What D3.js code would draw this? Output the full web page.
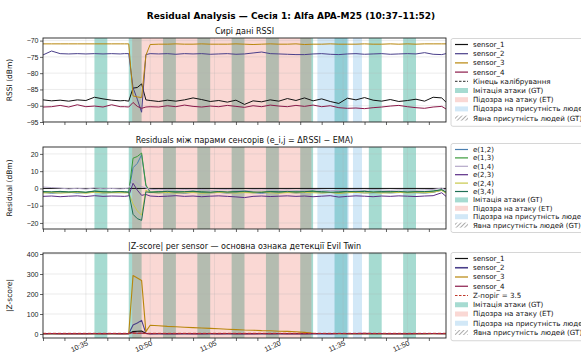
<!DOCTYPE html>
<html>
<head>
<meta charset="utf-8">
<script src="https://cdn.jsdelivr.net/npm/d3@7/dist/d3.min.js"></script>
<style>
  body { margin: 0; background: #fff; }
  svg { display: block; font-family: "DejaVu Sans", sans-serif; }
</style>
</head>
<body>
<svg id="chart" width="581" height="354"></svg>
<script>
// time axis: minutes after 10:00
const minutes = [25,27,29,31,33,35,37,39,41,43,44,45,46,47,48,49,50,52,54,56,58,60,62,64,66,68,70,72,74,76,78,80,82,84,86,88,90,92,94,96,98,100,102,104,106,108,110,112,114,116,118,119];

// raw RSSI (dBm)
const rssi1 = [-88.2,-88.5,-88.3,-88.6,-88.2,-88.4,-87.4,-87.9,-88.3,-88.5,-88.4,-88.6,-84.6,-84.4,-83.3,-88.2,-88.4,-88.7,-88.3,-88.6,-88.2,-87.6,-88.1,-88.7,-88.4,-88.9,-88.3,-89.6,-88.5,-88.8,-88.2,-88.6,-87.8,-88.4,-87.6,-88.5,-87.9,-88.7,-89.3,-87.7,-88.2,-87.5,-88.3,-88.6,-88.1,-88.7,-88.4,-88.0,-88.6,-87.4,-87.6,-88.9];
const rssi2 = [-74.4,-73.2,-74.0,-74.1,-74.0,-74.1,-74.0,-74.1,-74.0,-74.1,-74.0,-74.0,-84.5,-88.0,-92.0,-74.3,-74.0,-74.1,-74.0,-74.2,-74.0,-74.1,-74.0,-74.2,-74.1,-74.0,-74.2,-74.1,-73.8,-73.5,-74.0,-74.1,-74.2,-74.3,-74.3,-74.1,-74.0,-74.2,-74.3,-74.1,-74.0,-74.2,-74.1,-74.0,-74.2,-74.1,-74.0,-74.1,-73.7,-74.2,-74.3,-74.0];
const rssi3 = [-71.0,-71.0,-71.0,-71.0,-71.0,-71.0,-71.0,-71.0,-71.0,-71.0,-71.0,-71.0,-87.0,-87.3,-87.5,-74.5,-71.2,-71.1,-71.1,-71.0,-71.1,-71.1,-71.0,-71.1,-71.1,-71.1,-71.0,-71.1,-71.2,-71.1,-71.0,-71.1,-71.1,-71.0,-71.2,-71.1,-71.1,-71.0,-71.1,-71.1,-71.1,-71.0,-71.1,-71.1,-71.0,-71.1,-71.0,-71.1,-71.0,-71.0,-71.0,-71.0];
const rssi4 = [-90.4,-90.3,-89.9,-90.4,-89.7,-90.3,-90.1,-90.4,-89.7,-90.3,-90.3,-90.4,-89.0,-90.2,-90.8,-90.4,-90.3,-90.4,-90.0,-90.3,-89.8,-90.2,-90.4,-90.1,-90.3,-89.9,-90.2,-90.5,-90.0,-90.3,-89.8,-90.1,-90.3,-89.9,-90.2,-89.8,-90.3,-90.0,-90.6,-90.8,-90.7,-90.9,-90.6,-90.4,-90.1,-89.9,-90.3,-90.6,-90.8,-90.4,-90.2,-91.0];

// residuals between sensor pairs (dBm)
const e12 = [-2.3,-2.8,-2.5,-2.2,-2.7,-2.4,-2.0,-2.6,-2.4,-2.5,-2.3,-2.0,12.0,14.5,19.5,1.5,-2.2,-2.6,-2.3,-2.5,-2.8,-2.2,-2.4,-2.6,-2.3,-2.7,-2.4,-2.1,-2.5,-2.8,-2.3,-2.5,-2.2,-2.6,-2.4,-2.0,-2.5,-2.3,-2.7,-2.4,-2.2,-2.6,-2.5,-2.3,-2.6,-2.4,-2.2,-2.5,-2.7,-2.3,-1.0,-2.6];
const e13 = [-2.0,-2.2,-1.8,-2.1,-1.9,-2.3,-1.6,-2.0,-2.2,-1.9,-2.1,-2.4,17.5,18.5,20.5,2.0,-2.1,-1.8,-2.2,-1.9,-2.0,-1.7,-2.1,-2.3,-1.9,-2.2,-1.8,-2.0,-2.4,-2.1,-1.8,-2.0,-2.2,-1.9,-2.1,-1.6,-2.0,-2.3,-2.5,-1.9,-2.0,-1.7,-2.2,-2.0,-1.8,-2.1,-2.3,-1.9,-2.0,-1.6,-0.8,-2.2];
const e14 = [0.8,0.5,0.2,-0.3,0.1,-0.4,0.3,-0.2,0.0,-0.3,-0.1,0.2,5.0,3.0,1.0,0.3,-0.5,-0.8,-0.6,-1.0,-0.7,-0.9,-0.6,-1.1,-0.8,-0.7,-1.0,-1.2,-0.8,-0.9,-0.7,-1.0,-0.8,-1.1,-0.9,-0.6,-1.0,-1.3,-1.2,-0.8,-0.9,-1.0,-0.7,-0.9,-1.1,-0.8,-0.9,-1.0,-0.8,-0.6,0.2,-1.0];
const e23 = [-4.6,-4.4,-4.8,-4.5,-4.3,-4.7,-4.2,-4.6,-4.4,-4.5,-4.6,-4.3,3.0,-1.0,-4.0,-3.5,-4.4,-4.7,-4.5,-4.2,-4.6,-4.4,-4.8,-4.5,-4.3,-4.6,-4.9,-5.3,-4.6,-4.4,-4.7,-4.5,-4.3,-4.6,-4.4,-4.8,-4.5,-4.2,-5.0,-4.6,-4.3,-4.5,-4.8,-4.4,-4.6,-4.3,-4.5,-4.7,-4.4,-4.2,-2.5,-4.6];
const e24 = [-2.6,-2.4,-2.7,-2.5,-2.3,-2.8,-2.2,-2.6,-2.5,-2.4,-2.6,-2.5,-9.0,-13.0,-15.5,-1.0,-2.4,-2.6,-2.3,-2.7,-2.5,-2.4,-2.8,-2.6,-2.3,-2.5,-2.7,-2.4,-2.6,-2.2,-2.5,-2.8,-2.4,-2.6,-2.3,-2.5,-2.7,-2.4,-2.9,-2.5,-2.3,-2.6,-2.4,-2.7,-2.5,-2.3,-2.6,-2.4,-2.5,-2.2,-1.2,-2.7];
const e34 = [-1.8,-2.0,-1.7,-2.1,-1.9,-2.2,-1.5,-1.9,-2.0,-1.8,-1.9,-2.2,-15.0,-17.5,-18.5,-2.0,-2.3,-2.0,-1.7,-2.1,-1.9,-1.6,-2.0,-2.2,-1.8,-2.1,-1.9,-1.6,-2.0,-2.3,-1.8,-2.0,-1.7,-2.1,-1.9,-1.5,-1.9,-2.2,-2.0,-1.7,-1.9,-1.6,-2.1,-1.8,-2.0,-1.7,-2.1,-1.9,-1.8,-1.5,-0.7,-2.1];

// |Z-score| per sensor
const z1 = [1.2,1.8,1.0,2.0,1.4,1.6,2.5,1.8,1.2,1.5,1.3,1.6,12.0,14.0,15.0,2.5,1.5,1.8,1.3,1.6,1.9,2.2,1.4,1.7,1.3,1.8,1.5,2.4,1.6,1.9,1.3,1.7,2.0,1.4,2.1,1.5,1.8,1.6,2.2,2.0,1.4,2.3,1.7,1.5,1.8,1.6,1.4,1.9,1.6,2.4,2.6,1.8];
const z2 = [1.5,2.8,1.2,1.4,1.3,1.5,1.2,1.4,1.3,1.5,1.2,1.4,45.0,55.0,68.0,3.0,1.5,1.3,1.4,1.2,1.5,1.3,1.4,1.6,1.2,1.5,1.3,1.4,1.8,1.5,1.3,1.4,1.2,1.5,1.3,1.4,1.2,1.5,1.6,1.3,1.4,1.2,1.5,1.3,1.4,1.2,1.5,1.6,1.4,1.8,1.5,1.3];
const z3 = [1.0,1.2,0.9,1.1,1.0,1.2,1.0,1.1,0.9,1.0,1.1,1.2,292.0,280.0,268.0,12.0,44.0,41.0,38.0,36.0,34.0,32.0,30.0,28.0,26.0,24.0,22.0,20.0,19.0,17.0,16.0,14.0,13.0,11.0,8.0,3.0,2.6,2.2,2.0,1.8,1.7,1.5,1.5,1.4,1.3,1.3,1.2,1.2,1.1,1.1,1.0,1.0];
const z4 = [2.0,2.2,1.8,2.4,1.9,2.1,2.3,1.9,2.2,2.0,2.1,2.3,6.0,3.5,4.5,2.2,2.0,2.2,1.9,2.1,2.3,1.8,2.0,2.2,1.9,2.4,2.0,2.1,1.8,2.2,2.0,2.3,1.9,2.1,2.0,2.2,2.4,2.1,2.6,2.8,2.5,2.9,2.4,2.2,2.0,1.9,2.1,2.3,2.5,2.2,2.0,2.6];
const zThreshold = 3.5;

// shaded intervals (minutes after 10:00)
const attackGT = [[37,40],[45,48],[53,56],[61,64],[69,72],[77,80],[85,88],[93,96],[101,104],[109,112]];
const attackET = [[45.8,87.6]];
const presenceET = [[89,96.3],[97.3,99.4]];

const tickMinutes = d3.range(25, 120, 5);
const labelMinutes = [35, 50, 65, 80, 95, 110];

const sensorNames = ['sensor_1','sensor_2','sensor_3','sensor_4'];
const pairNames = ['e(1,2)','e(1,3)','e(1,4)','e(2,3)','e(2,4)','e(3,4)'];

const sensorColors = ['#111111','#4a3f8a','#b8860b','#8b1a4a'];
const pairColors = ['#4a7fb0','#3a9a3a','#b4a8c8','#5b2d86','#c8c84a','#1f6f55'];

const svg = d3.select('#chart');
const W = 581;
const x = d3.scaleLinear().domain([25, 119]).range([43, 446]);
const fmt = m => { const t = 600 + m; return Math.floor(t / 60) + ':' + String(t % 60).padStart(2, '0'); };

svg.append('rect').attr('width', W).attr('height', 354).attr('fill', '#fff');

const defs = svg.append('defs');
const hatch = defs.append('pattern').attr('id', 'hatch').attr('patternUnits', 'userSpaceOnUse')
  .attr('width', 3).attr('height', 3).attr('patternTransform', 'rotate(45)');
hatch.append('line').attr('x1', 0).attr('y1', 0).attr('x2', 0).attr('y2', 3).attr('stroke', '#333').attr('stroke-width', 0.8);

svg.append('text').attr('x', 291).attr('y', 19).attr('text-anchor', 'middle')
  .attr('font-size', 9).attr('font-weight', 'bold')
  .text('Residual Analysis — Сесія 1: Alfa APA-M25 (10:37–11:52)');

function drawPanel(cfg) {
  const y = d3.scaleLinear().domain(cfg.domain).range([cfg.bottom, cfg.top]);
  const g = svg.append('g');
  const clipId = 'clip' + cfg.id;
  defs.append('clipPath').attr('id', clipId).append('rect')
    .attr('x', 43).attr('y', cfg.top).attr('width', 403).attr('height', cfg.bottom - cfg.top);

  const plot = g.append('g').attr('clip-path', `url(#${clipId})`);

  // shading
  const shade = (list, color, op) => plot.append('g').selectAll('rect').data(list).enter().append('rect')
    .attr('x', d => x(d[0])).attr('width', d => x(d[1]) - x(d[0]))
    .attr('y', cfg.top).attr('height', cfg.bottom - cfg.top)
    .attr('fill', color).attr('fill-opacity', op);
  shade(attackGT, '#16a085', 0.38);
  shade(attackET, '#e74c3c', 0.22);
  shade(presenceET, '#5dade2', 0.28);

  // grid
  plot.append('g').selectAll('line').data(cfg.ticks).enter().append('line')
    .attr('x1', 43).attr('x2', 446).attr('y1', d => y(d)).attr('y2', d => y(d))
    .attr('stroke', '#b0b0b0').attr('stroke-opacity', 0.35).attr('stroke-width', 0.7);
  plot.append('g').selectAll('line').data(labelMinutes).enter().append('line')
    .attr('y1', cfg.top).attr('y2', cfg.bottom).attr('x1', d => x(d)).attr('x2', d => x(d))
    .attr('stroke', '#b0b0b0').attr('stroke-opacity', 0.35).attr('stroke-width', 0.7);

  if (cfg.hline) {
    plot.append('line').attr('x1', 43).attr('x2', 446)
      .attr('y1', y(cfg.hline.v)).attr('y2', y(cfg.hline.v))
      .attr('stroke', cfg.hline.color).attr('stroke-width', cfg.hline.width)
      .attr('stroke-dasharray', cfg.hline.dash || null);
  }

  const line = d3.line().x((d, i) => x(minutes[i])).y(d => y(d));
  cfg.series.forEach((s, i) => {
    plot.append('path').datum(s).attr('d', line).attr('fill', 'none')
      .attr('stroke', cfg.colors[i]).attr('stroke-width', cfg.lw || 1).attr('stroke-linejoin', 'round');
  });

  if (cfg.after) cfg.after(plot, y);

  // axes
  const ax = g.append('g').attr('transform', `translate(0,${cfg.bottom})`)
    .call(d3.axisBottom(x).tickValues(tickMinutes).tickSize(3)
      .tickFormat(d => (cfg.labels && labelMinutes.includes(d)) ? fmt(d) : ''));
  ax.select('.domain').remove();
  ax.selectAll('line').attr('stroke', '#222').attr('stroke-width', 0.7);
  ax.selectAll('text').attr('font-size', 7.2).attr('fill', '#222')
    .attr('text-anchor', 'end').attr('y', 0).attr('x', 0).attr('dy', '0.72em')
    .attr('transform', 'translate(0,2) rotate(-25)');

  const ay = g.append('g').attr('transform', 'translate(43,0)')
    .call(d3.axisLeft(y).tickValues(cfg.ticks).tickSize(3));
  ay.select('.domain').remove();
  ay.selectAll('line').attr('stroke', '#222').attr('stroke-width', 0.7);
  ay.selectAll('text').attr('font-size', 7).attr('fill', '#222').attr('x', -4.5);

  g.append('rect').attr('x', 43).attr('y', cfg.top).attr('width', 403).attr('height', cfg.bottom - cfg.top)
    .attr('fill', 'none').attr('stroke', '#222').attr('stroke-width', 0.9);

  g.append('text').attr('x', 244.5).attr('y', cfg.top - 4).attr('text-anchor', 'middle')
    .attr('font-size', 8).attr('fill', '#111').text(cfg.title);

  g.append('text').attr('transform', `translate(12,${(cfg.top + cfg.bottom) / 2}) rotate(-90)`)
    .attr('text-anchor', 'middle').attr('font-size', 7.5).attr('fill', '#111').text(cfg.ylabel);

  // legend
  const lg = g.append('g');
  const n = cfg.legend.length;
  lg.append('rect').attr('x', 451).attr('y', cfg.legTop).attr('width', 150)
    .attr('height', cfg.legStep * n + 5).attr('rx', 2)
    .attr('fill', '#fff').attr('stroke', '#cccccc').attr('stroke-width', 0.8);
  cfg.legend.forEach((it, i) => {
    const cy = cfg.legTop + 6 + i * cfg.legStep;
    if (it.kind === 'line') {
      lg.append('line').attr('x1', 455).attr('x2', 468).attr('y1', cy).attr('y2', cy)
        .attr('stroke', it.color).attr('stroke-width', it.width || 1.2)
        .attr('stroke-dasharray', it.dash || null);
    } else if (it.kind === 'patch') {
      lg.append('rect').attr('x', 455).attr('y', cy - 2.5).attr('width', 13).attr('height', 5)
        .attr('fill', it.color).attr('fill-opacity', it.op);
    } else {
      lg.append('rect').attr('x', 455).attr('y', cy - 2.5).attr('width', 13).attr('height', 5)
        .attr('fill', 'url(#hatch)');
    }
    lg.append('text').attr('x', 473).attr('y', cy + 2.4).attr('font-size', cfg.legFont).attr('fill', '#111').text(it.label);
  });
}

const shadeLegend = [
  { kind: 'patch', color: '#16a085', op: 0.38, label: 'Імітація атаки (GT)' },
  { kind: 'patch', color: '#e74c3c', op: 0.22, label: 'Підозра на атаку (ET)' },
  { kind: 'patch', color: '#5dade2', op: 0.28, label: 'Підозра на присутність людей (ET)' },
  { kind: 'hatch', label: 'Явна присутність людей (GT)' }
];

drawPanel({
  id: 1, top: 38, bottom: 122, domain: [-95, -69.2], ticks: [-95, -90, -85, -80, -75, -70],
  series: [rssi1, rssi2, rssi3, rssi4], colors: sensorColors,
  title: 'Сирі дані RSSI', ylabel: 'RSSI (dBm)',
  legTop: 38.5, legStep: 9.2, legFont: 7.1,
  legend: sensorNames.map((s, i) => ({ kind: 'line', color: sensorColors[i], label: s }))
    .concat([{ kind: 'line', color: '#555', dash: '2.5,1.5', label: 'Кінець калібрування' }], shadeLegend)
});

drawPanel({
  id: 2, top: 147, bottom: 229, domain: [-23.5, 24], ticks: [-20, -10, 0, 10, 20],
  series: [e12, e13, e14, e23, e24, e34], colors: pairColors,
  hline: { v: 0, color: '#111', width: 1 },
  title: 'Residuals між парами сенсорів (e_i,j = ΔRSSI − EMA)', ylabel: 'Residual (dBm)',
  legTop: 143.5, legStep: 8.4, legFont: 7,
  legend: pairNames.map((s, i) => ({ kind: 'line', color: pairColors[i], label: s })).concat(shadeLegend)
});

drawPanel({
  id: 3, top: 253, bottom: 338, domain: [-20, 405], ticks: [0, 100, 200, 300, 400],
  series: [z1, z2, z3, z4], colors: sensorColors, lw: 1.1, labels: true,
  title: '|Z-score| per sensor — основна ознака детекції Evil Twin', ylabel: '|Z-score|',
  after: (plot, y) => {
    plot.append('line').attr('x1', 43).attr('x2', 446).attr('y1', y(zThreshold)).attr('y2', y(zThreshold))
      .attr('stroke', '#c0392b').attr('stroke-width', 1).attr('stroke-dasharray', '3,2');
  },
  legTop: 252.5, legStep: 9.25, legFont: 7.1,
  legend: sensorNames.map((s, i) => ({ kind: 'line', color: sensorColors[i], label: s, width: i === 1 ? 1.6 : 1.2 }))
    .concat([{ kind: 'line', color: '#c0392b', dash: '2.5,1.5', label: 'Z-поріг = 3.5' }], shadeLegend)
});
</script>
</body>
</html>
